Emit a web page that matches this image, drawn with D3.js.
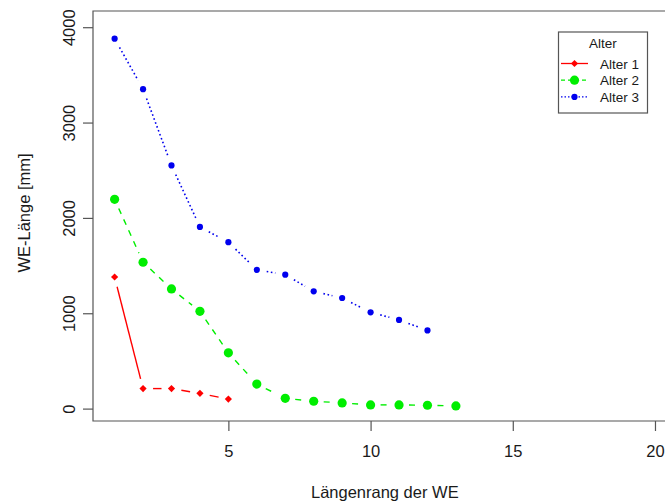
<!DOCTYPE html>
<html>
<head>
<meta charset="utf-8">
<script src="https://cdn.jsdelivr.net/npm/d3@7"></script>
<style>
  html, body { margin: 0; padding: 0; background: #fff; overflow: hidden; }
  svg { display: block; font-family: "Liberation Sans", Arial, Helvetica, sans-serif; }
</style>
</head>
<body>
<svg id="chart" width="665" height="502"></svg>
<script>
// ---- data ----
const seriesNames = ["Alter 1", "Alter 2", "Alter 3"];
const ranks1 = [1, 2, 3, 4, 5];
const values1 = [1380, 210, 210, 160, 100];
const ranks2 = [1, 2, 3, 4, 5, 6, 7, 8, 9, 10, 11, 12, 13];
const values2 = [2195, 1535, 1255, 1020, 585, 257, 108, 77, 60, 39, 39, 35, 28];
const ranks3 = [1, 2, 3, 4, 5, 6, 7, 8, 9, 10, 11, 12];
const values3 = [3880, 3350, 2550, 1905, 1745, 1455, 1405, 1230, 1160, 1010, 930, 820];
const xTicks = [5, 10, 15, 20];
const yTicks = [0, 1000, 2000, 3000, 4000];
const legendTitle = "Alter";
const xLabel = "Längenrang der WE";
const yLabel = "WE-Länge [mm]";

// ---- styles ----
const colors = ["#ff0000", "#00ee00", "#0000ee"];
const dashes = [null, "6,6", "1.6,2.6"];
const markers = ["diamond", "bigcircle", "smallcircle"];

const svg = d3.select("#chart");
svg.append("rect").attr("width", 665).attr("height", 502).attr("fill", "#fff");

const x = d3.scaleLinear().domain([0.24, 20.76]).range([93, 676.6]);
const y = d3.scaleLinear().domain([-130, 4170]).range([421, 11]);

const frameColor = "#555";
const textColor = "#1a1a1a";

// frame (right side lies outside the picture)
const [xl, xr] = x.range();
const [yb, yt] = y.range();
svg.append("path")
  .attr("d", `M${xr},${yt}H${xl}V${yb}H${xr}`)
  .attr("fill", "none").attr("stroke", frameColor).attr("stroke-width", 1.2);

// x axis
const xAxis = svg.append("g")
  .attr("transform", `translate(0,${yb})`)
  .call(d3.axisBottom(x).tickValues(xTicks).tickSize(10).tickPadding(14).tickFormat(d3.format("d")));
xAxis.select(".domain").remove();
xAxis.selectAll(".tick line").attr("stroke", frameColor).attr("stroke-width", 1.2);
xAxis.selectAll(".tick text").attr("fill", textColor).style("font-size", "16.5px")
  .style("font-family", "'Liberation Sans', Arial, sans-serif");

// y axis
const yAxis = svg.append("g")
  .attr("transform", `translate(${xl},0)`)
  .call(d3.axisLeft(y).tickValues(yTicks).tickSize(10).tickFormat(d3.format("d")));
yAxis.select(".domain").remove();
yAxis.selectAll(".tick line").attr("stroke", frameColor).attr("stroke-width", 1.2);
yAxis.selectAll(".tick text")
  .attr("x", null)
  .attr("transform", "translate(-24,0) rotate(-90)")
  .attr("text-anchor", "middle")
  .attr("dy", "0.35em")
  .attr("fill", textColor).style("font-size", "16.5px")
  .style("font-family", "'Liberation Sans', Arial, sans-serif");

// axis titles
svg.append("text")
  .attr("x", (xl + xr) / 2).attr("y", 498)
  .attr("text-anchor", "middle").attr("fill", textColor)
  .style("font-size", "16.5px").text(xLabel);
svg.append("text")
  .attr("transform", `translate(30,${(yb + yt) / 2 - 3}) rotate(-90)`)
  .attr("text-anchor", "middle").attr("fill", textColor)
  .style("font-size", "16.5px").text(yLabel);

// series
const series = [
  { name: seriesNames[0], ranks: ranks1, values: values1 },
  { name: seriesNames[1], ranks: ranks2, values: values2 },
  { name: seriesNames[2], ranks: ranks3, values: values3 }
];

function drawMarker(g, kind, cx, cy, color) {
  if (kind === "diamond") {
    const h = 3.6;
    g.append("path")
      .attr("d", `M${cx},${cy - h}L${cx + h},${cy}L${cx},${cy + h}L${cx - h},${cy}Z`)
      .attr("fill", color);
  } else if (kind === "bigcircle") {
    g.append("circle").attr("cx", cx).attr("cy", cy).attr("r", 4.6).attr("fill", color);
  } else {
    g.append("circle").attr("cx", cx).attr("cy", cy).attr("r", 3.1).attr("fill", color);
  }
}

const gap = 10;
series.forEach((s, i) => {
  const g = svg.append("g");
  const pts = s.ranks.map((r, k) => [x(r), y(s.values[k])]);
  for (let k = 0; k < pts.length - 1; k++) {
    const [x0, y0] = pts[k], [x1, y1] = pts[k + 1];
    const len = Math.hypot(x1 - x0, y1 - y0);
    if (len <= 2 * gap) continue;
    const ux = (x1 - x0) / len, uy = (y1 - y0) / len;
    const line = g.append("line")
      .attr("x1", x0 + ux * gap).attr("y1", y0 + uy * gap)
      .attr("x2", x1 - ux * gap).attr("y2", y1 - uy * gap)
      .attr("stroke", colors[i]).attr("stroke-width", i === 2 ? 1.6 : 1.4);
    if (dashes[i]) line.attr("stroke-dasharray", dashes[i]);
  }
  pts.forEach(([px, py]) => drawMarker(g, markers[i], px, py, colors[i]));
});

// legend
const lg = svg.append("g");
lg.append("rect").attr("x", 558.5).attr("y", 32).attr("width", 89).attr("height", 81)
  .attr("fill", "#fff").attr("stroke", frameColor).attr("stroke-width", 1.2);
lg.append("text").attr("x", 603).attr("y", 47.5).attr("text-anchor", "middle")
  .attr("fill", textColor).style("font-size", "13.5px").text(legendTitle);
series.forEach((s, i) => {
  const ly = 63.5 + i * 16.7;
  const l = lg.append("line").attr("x1", 561).attr("x2", 588).attr("y1", ly).attr("y2", ly)
    .attr("stroke", colors[i]).attr("stroke-width", 1.3);
  if (dashes[i]) l.attr("stroke-dasharray", i === 1 ? "4,3" : "1.5,2");
  drawMarker(lg, markers[i], 574.5, ly, colors[i]);
  lg.append("text").attr("x", 600).attr("y", ly + 5).attr("fill", textColor)
    .style("font-size", "13.5px").text(s.name);
});
</script>
</body>
</html>
